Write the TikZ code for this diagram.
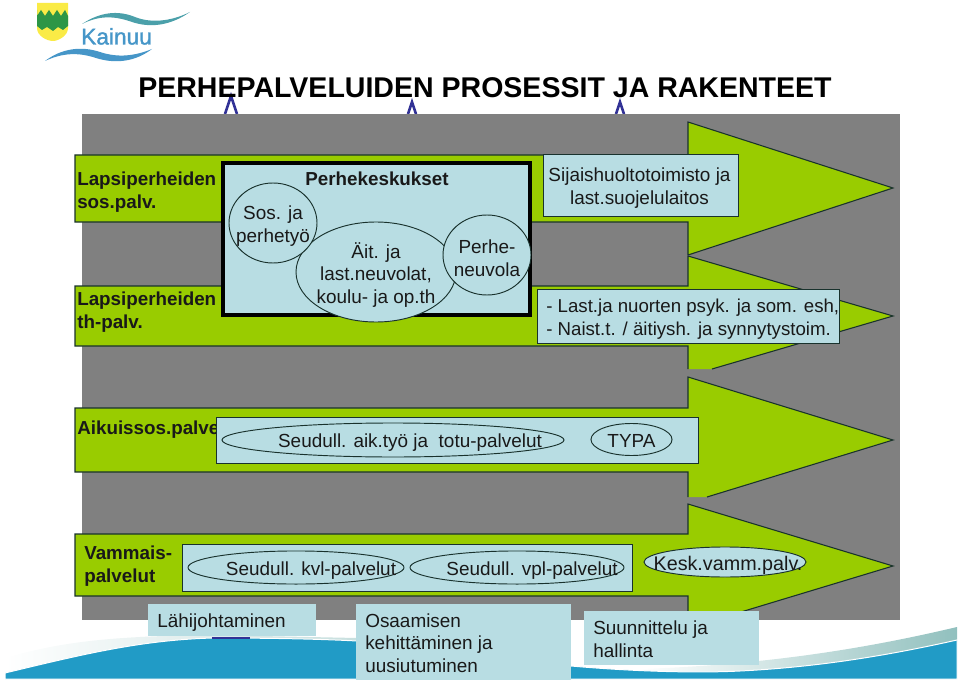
\documentclass[tikz,border=0pt]{standalone}
\usepackage{fontspec}
\setmainfont{Liberation Sans}
\newfontfamily\logofont[FakeBold=1.5]{Liberation Sans}
\usepackage{xcolor}
\usepackage{tikz}
\usetikzlibrary{shapes.geometric}
\definecolor{greybg}{RGB}{128,128,128}
\definecolor{bargreen}{RGB}{153,204,0}
\definecolor{paleblue}{RGB}{184,221,227}
\definecolor{edgedark}{RGB}{25,50,45}
\definecolor{tipblue}{RGB}{50,50,150}
\definecolor{waveblue}{RGB}{33,155,198}
\definecolor{waveteal}{RGB}{145,192,190}
\definecolor{logoteal}{RGB}{75,160,170}
\definecolor{logoblue}{RGB}{70,150,200}
\definecolor{logogreen}{RGB}{45,150,70}
\definecolor{logoyellow}{RGB}{250,235,70}
\tikzset{
  procbar/.style={draw=edgedark, fill=bargreen, line width=0.8pt},
  palebox/.style={rectangle, draw=edgedark, fill=paleblue, line width=0.7pt, inner sep=0pt},
  plainbox/.style={rectangle, fill=paleblue, inner sep=0pt},
  oval/.style={ellipse, draw=edgedark, fill=paleblue, line width=0.7pt, inner sep=0pt},
  hollow/.style={ellipse, draw=edgedark, line width=0.7pt, inner sep=0pt},
  txt/.style={inner sep=0pt, font=\fontsize{14.2}{17}\selectfont, align=center, text=black!90},
  txtleft/.style={txt, anchor=west, align=left},
  head/.style={txtleft, font=\fontsize{14.1}{17}\selectfont\bfseries},
  tiptop/.style={draw=tipblue, line width=2pt}
}
\begin{document}
\begin{tikzpicture}[x=0.75pt,y=-0.75pt]
  \useasboundingbox (0,0) rectangle (960,681);
  % wave at the bottom
  \shade[left color=white, middle color=waveteal, right color=waveteal!50] (5,658) .. controls (60,642) and (110,636) .. (213,635) -- (357,638) -- (357,642) -- (213,640) .. controls (120,642) and (60,660) .. (5,675) -- cycle;
  \shade[left color=white, right color=waveteal] (640,669) .. controls (760,665) and (860,650) .. (957,627) -- (957,642) .. controls (860,665) and (760,675) .. (640,672) -- cycle;
  \draw[white, fill=waveblue, line width=0.75pt] (5,673) .. controls (80,655) and (140,640) .. (213,638) .. controls (270,638) and (320,639) .. (357,641) -- (571,666) .. controls (640,672) and (700,673) .. (740,671) .. controls (820,667) and (890,655) .. (957,640) -- (957,679) -- (5,679) -- cycle;
  % grey field with the arrow tips behind it
  \draw[tiptop] (225,114) -- (231,96) -- (237,114);
  \draw[tiptop] (408,114) -- (412,102) -- (416,114);
  \draw[tiptop] (616,114) -- (620,102) -- (624,114);
  \fill[greybg] (82,114) rectangle (900,620);
  \draw[tipblue, line width=1.5pt] (212,638) -- (250,638);
  % process arrows: body top, body bottom, head top, tip, cut
  \foreach \bt/\bb/\ht/\ty/\cx/\cy in {155/222/122/188/688/255, 286/346/256/316/712/369, 408/472/377/440/707/497, 534/596/504/566/688/628}
    \draw[procbar] (\cx,\cy) -- (893,\ty) -- (688,\ht) -- (688,\bt) -- (75,\bt) -- (75,\bb) -- (688,\bb) -- (688,\cy);
  % logo
  \fill[logoyellow] (37,3) -- (68,3) -- (68,28) .. controls (68,36) and (58,41) .. (53,41) .. controls (47,41) and (37,36) .. (37,28) -- cycle;
  \fill[logogreen] (37,10) -- (37,16) -- (41,10) -- (45,16) -- (49,10) -- (53,16) -- (57,10) -- (61,16) -- (65,10) -- (68,16) -- (68,26) -- (63,30) -- (58,27) -- (53,31) -- (47,27) -- (42,30) -- (37,26) -- cycle;
  \fill[logoteal] (82,24) .. controls (100,12) and (118,10) .. (135,17) .. controls (150,23) and (170,22) .. (190,12) .. controls (170,26) and (150,28) .. (132,22) .. controls (115,16) and (100,15) .. (82,24) -- cycle;
  \fill[logoblue] (45,61) .. controls (62,48) and (82,46) .. (100,52) .. controls (118,58) and (135,56) .. (152,49) .. controls (135,62) and (115,64) .. (96,58) .. controls (78,52) and (62,53) .. (45,61) -- cycle;
  \node[anchor=base west, inner sep=0pt, text=logoblue, font=\logofont\fontsize{17}{17}\selectfont] (kainuu) at (81,44.5) {Kainuu};
  % title
  \node[inner sep=0pt, font=\fontsize{21.4}{25}\selectfont\bfseries, text=black] (title) at (485,88) {PERHEPALVELUIDEN PROSESSIT JA RAKENTEET};
  % row labels
  \node[head] (sospalv) at (77,192) {Lapsiperheiden\\sos.palv.};
  \node[head] (thpalv) at (77,312) {Lapsiperheiden\\th-palv.};
  \node[head] (aikpalv) at (77,430) {Aikuissos.palve};
  \node[head] (vammais) at (84,566) {Vammais-\\palvelut};
  % family centres
  \node[rectangle, draw=black, fill=paleblue, line width=2.6pt, minimum width=230pt, minimum height=114pt, inner sep=0pt] (perhe) at (376.5,239) {};
  \node[txt, font=\fontsize{14.1}{17}\selectfont\bfseries] (perhetitle) at (377,179) {Perhekeskukset};
  \node[oval, minimum width=120pt, minimum height=75pt] (aitoval) at (376,272) {};
  \node[txt] (aitiys) at (376,275) {Äit. ja\\last.neuvolat,\\koulu- ja op.th};
  \node[oval, minimum width=66pt, minimum height=60pt] (sosoval) at (273,223) {};
  \node[txt] (sosja) at (273,226) {Sos. ja\\perhetyö};
  \node[oval, minimum width=66pt, minimum height=60pt] (neuvoval) at (487,255) {};
  \node[txt] (neuvola) at (487,258) {Perhe-\\neuvola};
  % boxes on the arrows
  \node[palebox, minimum width=146.6pt, minimum height=45.8pt] (sijaisbox) at (641,185.5) {};
  \node[txt] (sijais) at (639.5,188) {Sijaishuoltotoimisto ja\\last.suojelulaitos};
  \node[palebox, minimum width=226.5pt, minimum height=40.5pt] (psyk) at (688,316) {};
  \node[txtleft, font=\fontsize{14}{17}\selectfont] (psyktxt) at (546,319) {- Last.ja nuorten psyk. ja som. esh,\\- Naist.t. / äitiysh. ja synnytystoim.};
  \node[palebox, minimum width=362pt, minimum height=34.5pt] (aikbox) at (457.5,440) {};
  \node[hollow, minimum width=256.5pt, minimum height=25.5pt] (aikoval) at (393,440) {};
  \node[txt] (aiktxt) at (410,443) {Seudull. aik.työ ja\ \ totu-palvelut};
  \node[hollow, minimum width=60.8pt, minimum height=24pt] (typaoval) at (631.5,439.5) {};
  \node[txt] (typa) at (631.5,441) {TYPA};
  \node[palebox, minimum width=337.5pt, minimum height=35.2pt] (vammbox) at (407,567.5) {};
  \node[hollow, minimum width=162pt, minimum height=24.8pt] (kvloval) at (296,567.5) {};
  \node[txt] (kvltxt) at (311,571) {Seudull. kvl-palvelut};
  \node[hollow, minimum width=160.5pt, minimum height=24.8pt] (vploval) at (517,567.5) {};
  \node[txt] (vpltxt) at (532,571) {Seudull. vpl-palvelut};
  \node[oval, minimum width=121.5pt, minimum height=22.5pt] (kesk) at (725,562) {};
  \node[txt, font=\fontsize{14.8}{17}\selectfont] (kesktxt) at (728,565) {Kesk.vamm.palv.};
  % bottom boxes
  \node[plainbox, minimum width=126pt, minimum height=24pt] (lahibox) at (232,620) {};
  \node[txtleft] (lahi) at (157,623) {Lähijohtaminen};
  \node[plainbox, minimum width=161.2pt, minimum height=57pt] (osabox) at (463.5,642) {};
  \node[txtleft] (osa) at (365,643) {Osaamisen\\kehittäminen ja\\uusiutuminen};
  \node[plainbox, minimum width=131.2pt, minimum height=40.5pt] (suubox) at (671.5,638) {};
  \node[txtleft] (suu) at (593,639) {Suunnittelu ja\\hallinta};
\end{tikzpicture}
\end{document}
